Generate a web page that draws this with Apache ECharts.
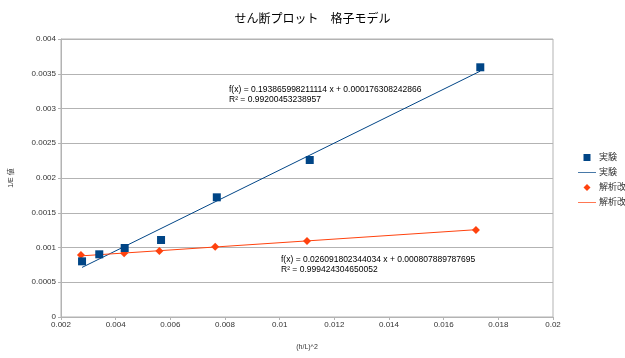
<!DOCTYPE html>
<html><head><meta charset="utf-8">
<script src="https://cdn.jsdelivr.net/npm/echarts@6/dist/echarts.min.js"></script>
<style>html,body{margin:0;padding:0;background:#fff}#c{width:625px;height:358px}</style>
</head><body><div id="c"></div>
<script>
// 実験 (measured)
const expX = [0.00277, 0.0034, 0.00433, 0.00566, 0.0077, 0.0111, 0.01734];
const expY = [0.000801, 0.000902, 0.000993, 0.001108, 0.001722, 0.002259, 0.003593];
// 解析改 (analysis)
const anaX = [0.00273, 0.0034, 0.00431, 0.0056, 0.00764, 0.011, 0.01718];
const anaY = [0.000892, 0.000897, 0.000917, 0.00095, 0.001012, 0.001094, 0.001252];
// linear trend coefficients shown on the chart
const expFit = {slope: 0.193865998211114, intercept: 0.000176308242866};
const anaFit = {slope: 0.026091802344034, intercept: 0.000807889787695};
const expEq = ['f(x) = 0.193865998211114 x + 0.000176308242866', 'R² = 0.99200453238957'];
const anaEq = ['f(x) = 0.026091802344034 x + 0.000807889787695', 'R² = 0.999424304650052'];
const xTicks = {min: 0.002, max: 0.02, interval: 0.002};
const yTicks = {min: 0, max: 0.004, interval: 0.0005};

const BLUE = '#004586', ORANGE = '#ff420e';
const FONT = '"Liberation Sans","Noto Sans CJK JP",sans-serif';
function trend(xs, fit){
  const a = Math.min(...xs), b = Math.max(...xs);
  return [[a, fit.slope*a+fit.intercept],[b, fit.slope*b+fit.intercept]];
}
const zip = (xs, ys) => xs.map((x,i)=>[x, ys[i]]);
const fmt = v => String(parseFloat(v.toPrecision(6)));

const ICON_SQUARE = 'path://M0,0 L10,0 L10,10 L0,10 Z';
const ICON_DIAMOND = 'path://M5,0 L10,5 L5,10 L0,5 Z';
const ICON_LINE = 'path://M0,0 L50,0 L50,2 L0,2 Z';

const chart = echarts.init(document.getElementById('c'));
chart.setOption({
  animation: false,
  textStyle: {fontFamily: FONT},
  title: {text: 'せん断プロット　格子モデル', left: 'center', top: 9,
    textStyle: {fontSize: 12, fontWeight: 'normal', color: '#000', fontFamily: FONT}},
  grid: {left: 61, right: 72, top: 39, bottom: 41, show: true, borderColor: '#b3b3b3', borderWidth: 1},
  xAxis: {type: 'value', min: xTicks.min, max: xTicks.max, interval: xTicks.interval,
    name: '(h/L)^2', nameLocation: 'middle', nameGap: 27,
    nameTextStyle: {fontSize: 7, color: '#333'},
    axisLine: {show: true, lineStyle: {color: '#b3b3b3'}},
    axisTick: {show: true, length: 3, lineStyle: {color: '#b3b3b3'}},
    axisLabel: {fontSize: 8, color: '#333', margin: 4, formatter: fmt},
    splitLine: {show: false}},
  yAxis: {type: 'value', min: yTicks.min, max: yTicks.max, interval: yTicks.interval,
    name: '1/E 値', nameLocation: 'middle', nameGap: 46, nameRotate: 90,
    nameTextStyle: {fontSize: 7, color: '#333'},
    axisLine: {show: true, lineStyle: {color: '#b3b3b3'}},
    axisTick: {show: true, length: 3, lineStyle: {color: '#b3b3b3'}},
    axisLabel: {fontSize: 8, color: '#333', margin: 5, formatter: fmt},
    splitLine: {show: true, lineStyle: {color: '#b3b3b3', width: 1}}},
  legend: {orient: 'vertical', left: 578, top: 153, width: 47, padding: 0,
    itemWidth: 18, itemHeight: 7, itemGap: 6, symbolKeepAspect: true,
    textStyle: {fontSize: 9, color: '#333', fontFamily: FONT, overflow: 'none', padding: [0,0,0,-2]},
    data: [
      {name: '実験', icon: ICON_SQUARE, itemStyle: {color: BLUE, opacity: 1}},
      {name: '実験 ', icon: ICON_LINE, itemStyle: {color: BLUE, opacity: 1}},
      {name: '解析改', icon: ICON_DIAMOND, itemStyle: {color: ORANGE, opacity: 1}},
      {name: '解析改 ', icon: ICON_LINE, itemStyle: {color: ORANGE, opacity: 1}}
    ]},
  series: [
    {name: '実験', type: 'scatter', data: zip(expX, expY), symbol: 'rect', symbolSize: 8,
      itemStyle: {color: BLUE, opacity: 1}, z: 5},
    {name: '実験 ', type: 'line', data: trend(expX, expFit), symbol: 'none',
      lineStyle: {color: BLUE, width: 1}, itemStyle: {color: BLUE}, z: 3},
    {name: '解析改', type: 'scatter', data: zip(anaX, anaY), symbol: 'diamond', symbolSize: 8,
      itemStyle: {color: ORANGE, opacity: 1}, z: 4},
    {name: '解析改 ', type: 'line', data: trend(anaX, anaFit), symbol: 'none',
      lineStyle: {color: ORANGE, width: 1}, itemStyle: {color: ORANGE}, z: 3}
  ],
  graphic: [
    {type: 'text', left: 229, top: 85, style: {text: expEq.join('\n'), fontSize: 8.5, lineHeight: 10, fill: '#000', fontFamily: FONT}},
    {type: 'text', left: 281, top: 255, style: {text: anaEq.join('\n'), fontSize: 8.5, lineHeight: 10, fill: '#000', fontFamily: FONT}}
  ]
});
</script></body></html>
